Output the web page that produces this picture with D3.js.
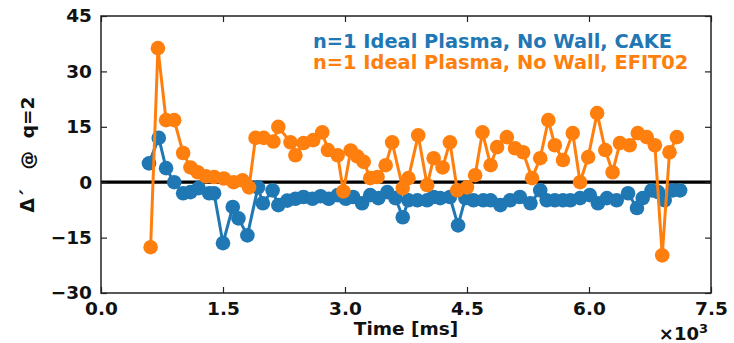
<!DOCTYPE html>
<html>
<head>
<meta charset="utf-8">
<script src="https://cdn.jsdelivr.net/npm/d3@7"></script>
<style>
  html, body { margin: 0; padding: 0; background: #fff; }
  svg { display: block; }
  text { font-family: "DejaVu Sans", sans-serif; font-weight: bold; white-space: pre; }
</style>
</head>
<body>
<svg id="chart" width="734" height="343"></svg>
<script>
// Time in units of 10^3 ms
const cakeTime = [0.59,0.71,0.80,0.90,1.01,1.10,1.20,1.33,1.39,1.50,1.62,1.69,1.80,1.93,1.99,2.11,2.18,2.29,2.39,2.49,2.60,2.70,2.80,2.91,3.01,3.10,3.21,3.31,3.41,3.52,3.62,3.71,3.78,3.89,4.01,4.09,4.17,4.29,4.39,4.48,4.58,4.70,4.79,4.91,5.03,5.15,5.28,5.40,5.48,5.58,5.68,5.77,5.89,6.01,6.11,6.22,6.34,6.48,6.59,6.66,6.77,6.85,6.93,7.03,7.12];
const cakeValues = [5.1,12.0,3.8,0.0,-3.0,-2.7,-1.6,-3.0,-3.0,-16.5,-6.7,-9.8,-14.4,-1.4,-5.7,-2.2,-6.2,-5.0,-4.5,-4.0,-4.5,-3.8,-4.5,-3.5,-4.5,-4.0,-5.7,-3.5,-4.3,-2.7,-4.3,-9.5,-4.9,-4.9,-4.9,-4.0,-4.3,-4.0,-11.7,-4.3,-4.9,-4.9,-4.9,-6.2,-4.9,-4.0,-5.7,-2.2,-4.9,-4.9,-4.9,-4.9,-4.3,-3.5,-5.7,-4.3,-4.9,-3.0,-7.0,-4.3,-2.2,-2.7,-4.9,-2.2,-2.2];
const efitTime = [0.61,0.70,0.80,0.90,1.01,1.10,1.19,1.29,1.39,1.51,1.63,1.74,1.82,1.90,2.00,2.12,2.18,2.33,2.39,2.49,2.61,2.72,2.79,2.91,2.98,3.07,3.15,3.23,3.31,3.40,3.50,3.58,3.71,3.78,3.90,4.01,4.09,4.20,4.29,4.38,4.50,4.60,4.69,4.79,4.87,4.99,5.09,5.19,5.30,5.40,5.50,5.58,5.68,5.80,5.89,5.99,6.10,6.20,6.29,6.38,6.50,6.60,6.71,6.81,6.90,6.99,7.08];
const efitValues = [-17.6,36.3,16.8,16.8,7.9,4.0,2.7,1.6,1.4,1.0,0.0,0.5,-1.4,12.0,12.0,11.0,15.0,10.8,7.3,10.6,11.4,13.5,8.7,7.3,-2.5,8.6,7.0,5.5,1.1,1.4,4.6,10.8,-1.6,1.1,12.7,-0.8,6.5,4.0,10.8,-2.2,-1.4,1.9,13.5,4.6,9.5,12.2,9.2,8.1,1.1,6.5,16.8,10.0,6.0,13.3,0.0,6.8,18.7,8.7,2.7,10.6,10.0,13.3,12.2,10.0,-19.8,8.1,12.2];
const seriesNames = ["n=1 Ideal Plasma, No Wall, CAKE", "n=1 Ideal Plasma, No Wall, EFIT02"];
const seriesColors = ["#1f77b4", "#ff7f0e"];
const xTicks = [0, 1.5, 3.0, 4.5, 6.0, 7.5];
const yTicks = [-30, -15, 0, 15, 30, 45];
const xLabel = "Time [ms]";
const yLabel = "Δ´   @  q=2";
const xMultiplier = "×10";

const svg = d3.select("#chart");
const L = 101, R = 711, T = 16, B = 293;
const x = d3.scaleLinear().domain([0, 7.5]).range([L, R]);
const y = d3.scaleLinear().domain([-30, 45]).range([B, T]);

// zero line
svg.append("line")
  .attr("x1", x(0)).attr("x2", x(7.5))
  .attr("y1", y(0)).attr("y2", y(0))
  .attr("stroke", "#000").attr("stroke-width", 3.2);

const series = [
  cakeTime.map((t, i) => [t, cakeValues[i]]),
  efitTime.map((t, i) => [t, efitValues[i]])
];
const line = d3.line().x(d => x(d[0])).y(d => y(d[1]));
series.forEach((data, k) => {
  const g = svg.append("g");
  g.append("path").datum(data).attr("d", line)
    .attr("fill", "none").attr("stroke", seriesColors[k])
    .attr("stroke-width", 3).attr("stroke-linejoin", "round");
  g.selectAll("circle").data(data).join("circle")
    .attr("cx", d => x(d[0])).attr("cy", d => y(d[1]))
    .attr("r", 7.3).attr("fill", seriesColors[k]);
});

// axes (ticks inward)
const fmtX = d => d.toFixed(1);
const fmtY = d => (d < 0 ? "\u2212" + Math.abs(d) : String(d));
const axB = svg.append("g").attr("transform", `translate(0,${B})`)
  .call(d3.axisBottom(x).tickValues(xTicks).tickFormat(fmtX).tickSizeInner(-6).tickSizeOuter(0).tickPadding(9));
const axT = svg.append("g").attr("transform", `translate(0,${T})`)
  .call(d3.axisTop(x).tickValues(xTicks).tickFormat("").tickSizeInner(-6).tickSizeOuter(0));
const axLft = svg.append("g").attr("transform", `translate(${L},0)`)
  .call(d3.axisLeft(y).tickValues(yTicks).tickFormat(fmtY).tickSizeInner(-6).tickSizeOuter(0).tickPadding(9));
const axRt = svg.append("g").attr("transform", `translate(${R},0)`)
  .call(d3.axisRight(y).tickValues(yTicks).tickFormat("").tickSizeInner(-6).tickSizeOuter(0));
[axB, axT, axLft, axRt].forEach(a => {
  a.select(".domain").remove();
  a.selectAll(".tick line").attr("stroke", "#222").attr("stroke-width", 1.2);
  a.selectAll("text").attr("fill", "#111").style("font-size", "18.5px")
    .style("font-family", "DejaVu Sans").style("font-weight", "bold");
});
// frame
svg.append("rect").attr("x", L).attr("y", T).attr("width", R - L).attr("height", B - T)
  .attr("fill", "none").attr("stroke", "#222").attr("stroke-width", 1.5);

// axis labels
svg.append("text").attr("x", (L + R) / 2).attr("y", 335).attr("text-anchor", "middle")
  .style("font-size", "18.5px").attr("fill", "#111").text(xLabel);
const mult = svg.append("text").attr("x", 708).attr("y", 340).attr("text-anchor", "end")
  .style("font-size", "18px").attr("fill", "#111");
mult.append("tspan").text(xMultiplier);
mult.append("tspan").attr("dy", -7).style("font-size", "13px").text("3");
svg.append("text").attr("transform", `translate(34,${(T + B) / 2}) rotate(-90)`)
  .attr("text-anchor", "middle").style("font-size", "18.5px").attr("fill", "#111").text(yLabel);

// legend
seriesNames.forEach((name, k) => {
  svg.append("text").attr("x", 313).attr("y", 48 + k * 21)
    .style("font-size", "19.4px").attr("fill", seriesColors[k]).text(name);
});
</script>
</body>
</html>
